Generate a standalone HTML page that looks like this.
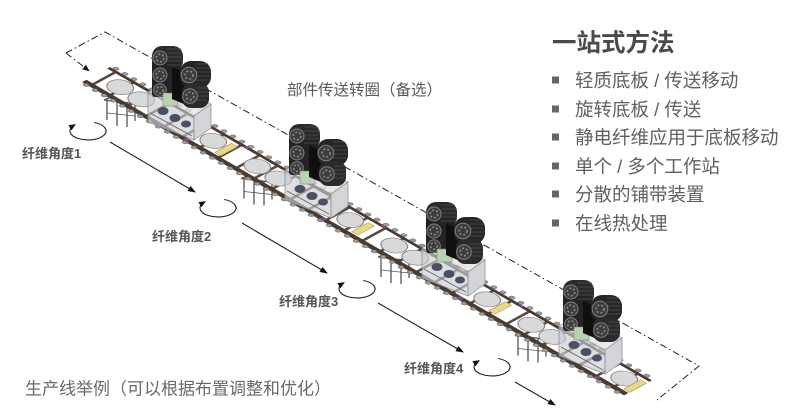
<!DOCTYPE html>
<html><head><meta charset="utf-8">
<style>
html,body{margin:0;padding:0;background:#fff;}
body{width:800px;height:420px;overflow:hidden;}
svg{display:block;}
text{font-family:"Liberation Sans","Noto Sans CJK SC",sans-serif;}
</style></head><body>
<svg width="800" height="420" viewBox="0 0 800 420" xmlns="http://www.w3.org/2000/svg">
<defs>
 <marker id="ah" viewBox="0 0 8 6" markerWidth="8" markerHeight="6" refX="7" refY="3" orient="auto" markerUnits="userSpaceOnUse"><path d="M0,0 L8,3 L0,6 Z" fill="#111"/></marker>
 <marker id="ah2" viewBox="0 0 7 6" markerWidth="7" markerHeight="6" refX="5" refY="3" orient="auto" markerUnits="userSpaceOnUse"><path d="M0,0 L7,3 L0,6 Z" fill="#111"/></marker>
 <pattern id="rung" patternUnits="userSpaceOnUse" width="18" height="30"><rect x="6" y="0" width="2.6" height="30" fill="#5a4a3d"/></pattern>
 <pattern id="rol" patternUnits="userSpaceOnUse" x="0" y="-8" width="9" height="40"><circle cx="4.5" cy="3" r="2.1" fill="#9d9d9d" stroke="#555" stroke-width=".5"/><circle cx="4.5" cy="37" r="2.1" fill="#9d9d9d" stroke="#555" stroke-width=".5"/></pattern>

 <g id="stand" stroke="#555" stroke-width="1.3" fill="none">
  <path d="M104,100 L138,104 M104,100 L112,97"/>
  <path d="M107,101 V120 M117,102 V126 M127,103 V127 M135,104 V121"/>
  <path d="M107,113 L135,116" stroke-width=".8"/>
 </g>

 <g id="box">
  <polygon points="148,92 166,82 211,104 194,116" fill="#e2e2e6" fill-opacity=".8" stroke="#8d8d93" stroke-width=".7"/>
  <polygon points="148,92 194,116 194,140 148,122" fill="#cbccd2" fill-opacity=".65" stroke="#85858c" stroke-width=".7"/>
  <polygon points="194,116 211,104 211,128 194,140" fill="#d3d4d8" stroke="#85858c" stroke-width=".7"/>
  <g fill="#4a4f62"><ellipse cx="163" cy="111" rx="5.5" ry="4"/><ellipse cx="175" cy="118" rx="5.5" ry="4"/><ellipse cx="186" cy="124" rx="5" ry="3.5"/></g>
  <path d="M150,113 L192,136" stroke="#666" stroke-width=".9"/>
 </g>

 <g id="sp">
  <rect x="152" y="46" width="31" height="25" rx="10" fill="#2b2b2b"/>
  <rect x="152" y="60" width="29" height="37" rx="3" fill="#232323"/>
  <path d="M167,49 H181 M167,53 H182 M167,57 H182 M167,61 H182 M167,65 H181" stroke="#505050" stroke-width=".7" fill="none"/>
  <g fill="#3d3d3d" stroke="#808080" stroke-width="1">
   <circle cx="160" cy="58" r="7"/><circle cx="160" cy="75" r="7"/><circle cx="160" cy="90" r="6.3"/>
  </g>
  <g fill="none" stroke="#8a8a8a" stroke-width="1.6" stroke-dasharray="2 2">
   <circle cx="160" cy="58" r="3.8"/><circle cx="160" cy="75" r="3.8"/><circle cx="160" cy="90" r="3.3"/>
  </g>
  <rect x="163" y="93" width="15" height="13" fill="#b8d2b2" stroke="#6a8a6a" stroke-width=".5"/>
  <polygon points="172,67 186,73 186,105 172,99" fill="#0f0f0f"/>
  <rect x="180" y="61" width="31" height="27" rx="11" fill="#262626"/>
  <rect x="182" y="83" width="27" height="25" rx="9" fill="#2b2b2b"/>
  <path d="M196,64 H208 M196,68 H210 M196,72 H210 M196,76 H210 M196,80 H209 M197,88 H207 M197,92 H208 M197,96 H208 M197,100 H207" stroke="#505050" stroke-width=".7" fill="none"/>
  <g fill="#3d3d3d" stroke="#808080" stroke-width="1">
   <circle cx="189" cy="75" r="7.8"/><circle cx="190" cy="96" r="7.3"/>
  </g>
  <g fill="none" stroke="#8a8a8a" stroke-width="1.6" stroke-dasharray="2 2">
   <circle cx="189" cy="75" r="4"/><circle cx="190" cy="96" r="3.8"/>
  </g>
 </g>
</defs>

<g fill="none" stroke="#222" stroke-width="1" stroke-dasharray="7 3 1.5 3">
 <path d="M66,53 L105,32 L699,366 L657,400"/>
 <path d="M66,53 L88,70" marker-end="url(#ah2)"/>
</g>

<use href="#stand"/>
<use href="#stand" transform="translate(137,78.5)"/>
<use href="#stand" transform="translate(274,157)"/>
<use href="#stand" transform="translate(411,235.5)"/>

<g transform="matrix(1,0.578,0.88,-0.48,86,80)">
 <rect x="0" y="-1" width="542" height="27" fill="url(#rung)"/>
 <rect x="0" y="-4.5" width="542" height="5" fill="#4b3b2f"/>
 <rect x="0" y="24" width="542" height="3.2" fill="#4b3b2f"/>
 <rect x="0" y="-8" width="542" height="40" fill="url(#rol)"/>
 <g fill="#d9d9d9" stroke="#7d7d7d" stroke-width=".8">
  <circle cx="23" cy="12.75" r="10"/><circle cx="44" cy="12.75" r="10"/><circle cx="116" cy="12.75" r="10"/>
  <circle cx="160" cy="12.75" r="10"/><circle cx="181" cy="12.75" r="10"/><circle cx="253" cy="12.75" r="10"/>
  <circle cx="297" cy="12.75" r="10"/><circle cx="318" cy="12.75" r="10"/><circle cx="390" cy="12.75" r="10"/>
  <circle cx="434" cy="12.75" r="10"/><circle cx="455" cy="12.75" r="10"/><circle cx="527" cy="12.75" r="10"/>
 </g>
 <g fill="#e8d888" stroke="#9a8640" stroke-width=".5">
  <rect x="127" y="2" width="6" height="19"/><rect x="264" y="2" width="6" height="19"/>
  <rect x="401" y="2" width="6" height="19"/><rect x="536" y="2" width="6" height="19"/>
 </g>
 <g fill="#7a4a8c">
  <rect x="100" y="-4" width="4" height="4"/><rect x="237" y="-4" width="4" height="4"/>
  <rect x="374" y="-4" width="4" height="4"/><rect x="511" y="-4" width="4" height="4"/>
  <rect x="136" y="24" width="4" height="3"/><rect x="273" y="24" width="4" height="3"/>
  <rect x="410" y="24" width="4" height="3"/>
 </g>
</g>

<use href="#box"/>
<use href="#box" transform="translate(137,78)"/>
<use href="#box" transform="translate(274,156)"/>
<use href="#box" transform="translate(411,234)"/>
<use href="#sp"/>
<use href="#sp" transform="translate(137,78)"/>
<use href="#sp" transform="translate(274,156)"/>
<use href="#sp" transform="translate(411,234)"/>

<g stroke="#222" stroke-width="1.1" fill="none" marker-end="url(#ah)">
 <path d="M110,142 L195,192"/>
 <path d="M242,223 L327,273"/>
 <path d="M378,303 L463,352"/>
 <path d="M515,382 L555,405"/>
</g>
<g stroke="#222" stroke-width="1.1" fill="none" marker-end="url(#ah2)">
 <path d="M94.2,122.5 A18,9 0 1 1 74.2,125.2"/>
 <path d="M224.2,199.5 A18,9 0 1 1 204.2,202.2"/>
 <path d="M363.2,280.5 A18,9 0 1 1 343.2,283.2"/>
 <path d="M498.2,358.5 A18,9 0 1 1 478.2,361.2"/>
</g>

<g font-size="13" font-weight="bold" fill="#555">
 <text x="22" y="158">纤维角度1</text>
 <text x="152" y="241">纤维角度2</text>
 <text x="279" y="306">纤维角度3</text>
 <text x="404" y="373">纤维角度4</text>
</g>
<text x="287" y="95" font-size="15.5" fill="#5a5a5a">部件传送转圈（备选）</text>
<text x="25" y="394.5" font-size="17" fill="#6a6a6a">生产线举例（可以根据布置调整和优化）</text>

<text x="552" y="51" font-size="24.5" font-weight="bold" fill="#4a4a4a">一站式方法</text>
<g fill="#666">
 <rect x="552" y="76.5" width="7" height="7"/>
 <rect x="552" y="105.5" width="7" height="7"/>
 <rect x="552" y="133.5" width="7" height="7"/>
 <rect x="552" y="162.5" width="7" height="7"/>
 <rect x="552" y="190.5" width="7" height="7"/>
 <rect x="552" y="219.5" width="7" height="7"/>
</g>
<g font-size="18.5" fill="#606060">
 <text x="575" y="87">轻质底板 / 传送移动</text>
 <text x="575" y="116">旋转底板 / 传送</text>
 <text x="575" y="144">静电纤维应用于底板移动</text>
 <text x="575" y="173">单个 / 多个工作站</text>
 <text x="575" y="201">分散的铺带装置</text>
 <text x="575" y="230">在线热处理</text>
</g>
</svg>
</body></html>
